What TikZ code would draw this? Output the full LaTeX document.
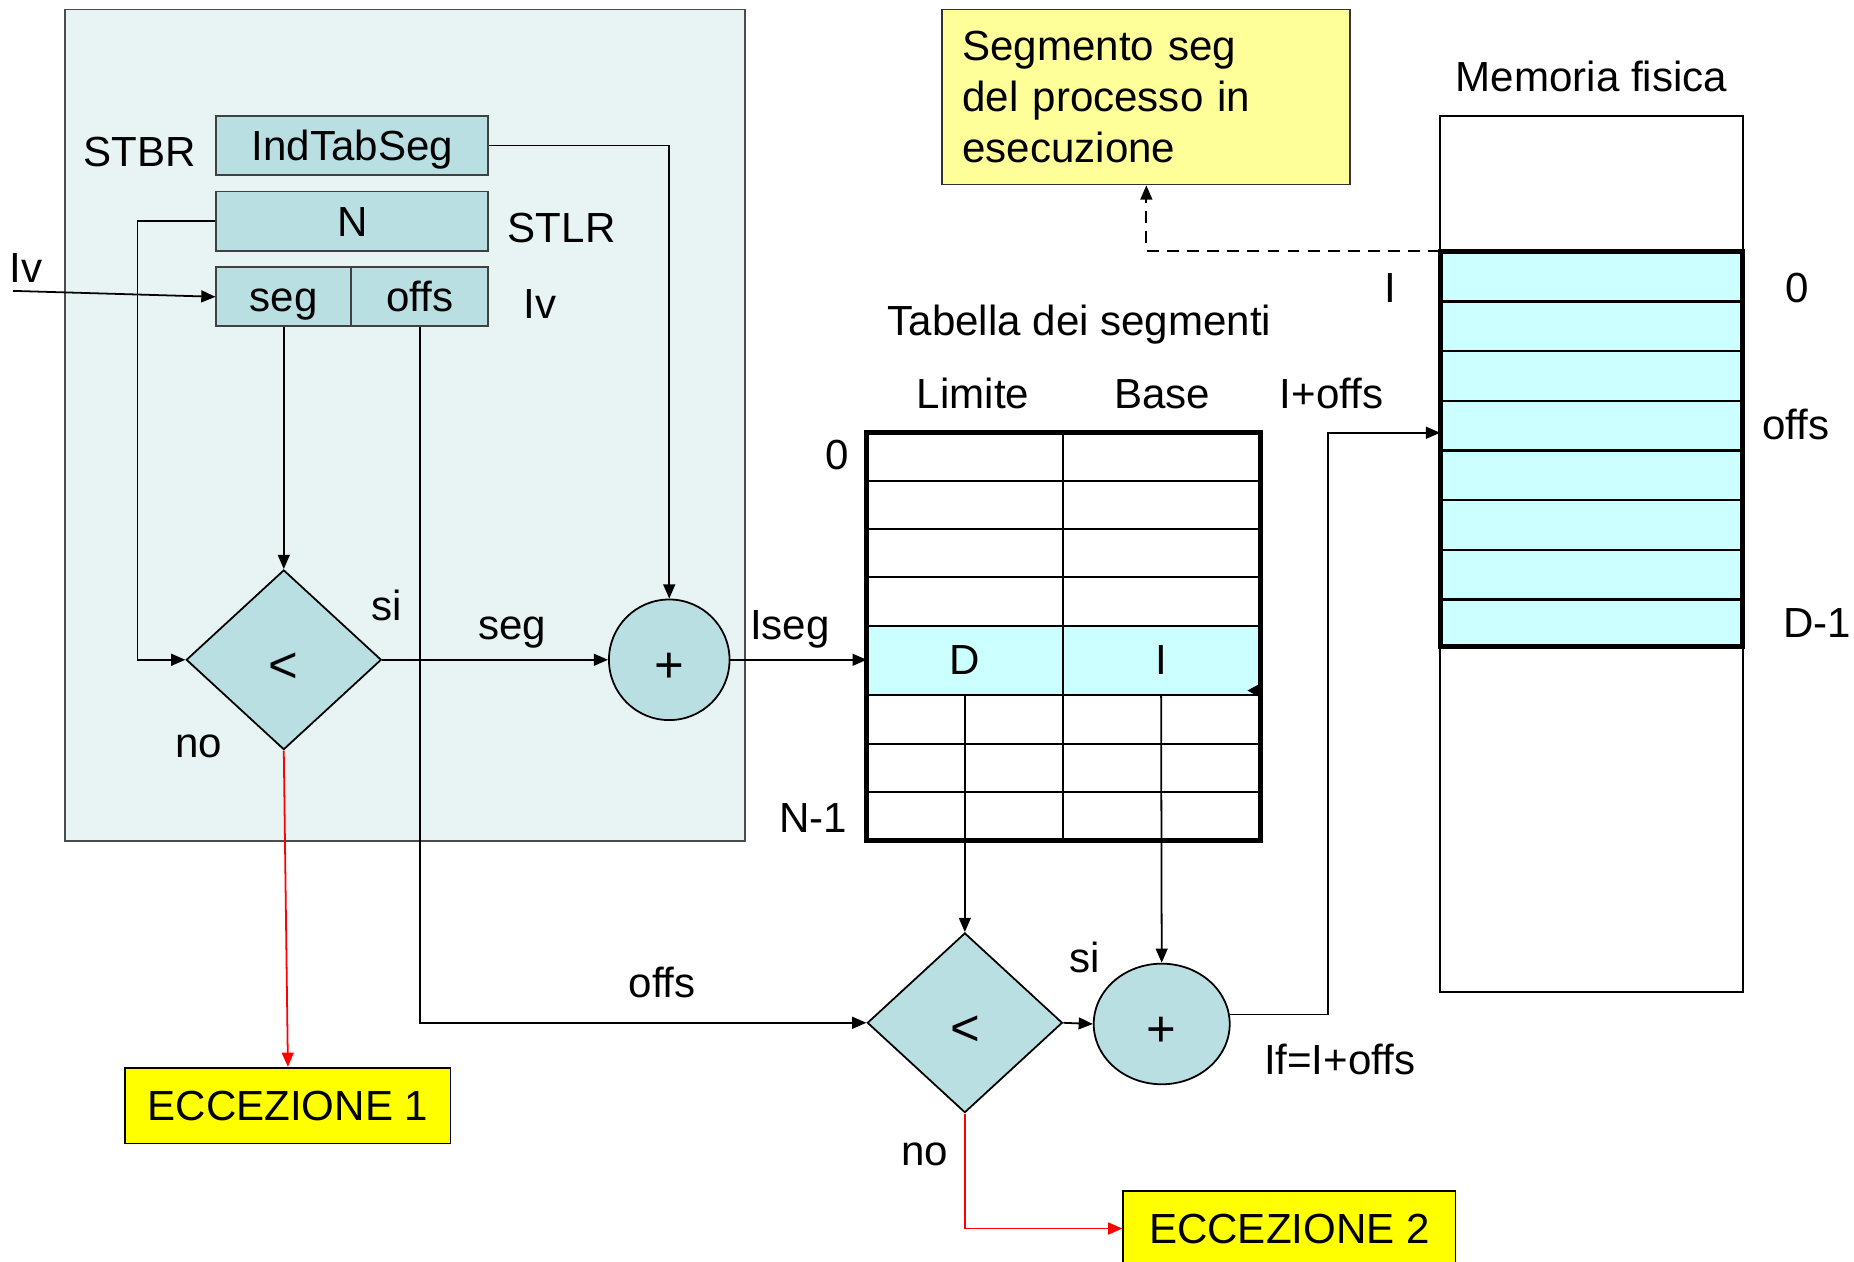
\documentclass[tikz,border=0pt]{standalone}
\usepackage{fontspec}
\setmainfont{Liberation Sans}
\usetikzlibrary{shapes.geometric,arrows.meta,calc}
\definecolor{bgpanel}{HTML}{E8F4F4}
\definecolor{tealbox}{HTML}{B9DFE2}
\definecolor{rowcyan}{HTML}{CCFFFF}
\definecolor{lyellow}{HTML}{FFFF99}
\definecolor{byellow}{HTML}{FFFF00}
\begin{document}
\begin{tikzpicture}[x=0.5pt,y=-0.5pt,
  font=\fontsize{17.8}{21.5}\selectfont,
  >={Triangle[length=6pt,width=5pt]},
  line width=0.75pt,
  txt/.style={text height=12.75pt, text depth=0pt},
  reg/.style={txt, draw=black!75, fill=tealbox, minimum height=25pt, inner sep=0pt},
  sym/.style={font=\fontsize{21.5}{25}\selectfont, text height=15.4pt, text depth=0pt},
  dec/.style={diamond, draw=black, fill=tealbox, minimum width=82.5pt, minimum height=76pt, inner sep=0pt},
  adder/.style={ellipse, draw=black, fill=tealbox, minimum height=51pt, inner sep=0pt},
  exc/.style={txt, draw=black, fill=byellow, minimum height=32pt, inner sep=0pt},
  lbl/.style={txt, inner sep=0pt},
  conn/.style={->},
  err/.style={->, red},
  thinrule/.style={line width=0.85pt},
  thickrule/.style={line width=2.1pt}]

\useasboundingbox (0,0) rectangle (1568,1067.3);
\fill[white] (0,0) rectangle (1568,1067.3);

% panel (CPU)
\draw[draw=black!70, fill=bgpanel] (55,8) rectangle (630,711);

% registers
\node[reg, minimum width=115pt] (ind) at (298,123) {IndTabSeg};
\node[reg, minimum width=115pt] (nreg) at (298,187) {N};
\node[reg, minimum width=57pt] (segf) at (240,251) {seg};
\node[reg, minimum width=58pt] (offsf) at (355,251) {offs};

\node[lbl] (stbr) at (118,128) {STBR};
\node[lbl] (stlr) at (475,192) {STLR};
\node[lbl] (ivl) at (22,226) {Iv};
\node[lbl] (ivr) at (457,257) {Iv};

% comparators and adders
\node[dec] (d1) at (240,558) {};
\node[adder, minimum width=51pt] (c1) at (566,558) {};
\node[dec] (d2) at (816,865) {};
\node[adder, minimum width=57.5pt] (c2) at (982.5,866) {};
\node[sym] (d1s) at (240,561.5) {<};
\node[sym] (c1s) at (566,561.5) {+};
\node[sym] (d2s) at (816,868.5) {<};
\node[sym] (c2s) at (982.5,869.5) {+};

\node[exc, minimum width=137.5pt] (e1) at (243.5,935) {ECCEZIONE 1};
\node[exc, minimum width=140.5pt] (e2) at (1090.5,1039) {ECCEZIONE 2};

% labels
\node[lbl] at (327,512) {si};
\node[lbl] at (168,628) {no};
\node[lbl] at (433,528) {seg};
\node[lbl] at (560,831) {offs};
\node[lbl] at (668,528) {Iseg};
\node[lbl] at (917,810) {si};
\node[lbl] at (782,973) {no};
\node[lbl] at (1133,896) {If=I+offs};

% segment table
\node[lbl] at (913,271) {Tabella dei segmenti};
\node[lbl] at (823,333) {Limite};
\node[lbl] at (983,333) {Base};
\node[lbl] at (1126,333) {I+offs};
\node[lbl] at (708,384) {0};
\node[lbl] at (688,691) {N-1};
\fill[rowcyan] (733,529) rectangle (1066,588);
\foreach \yy in {407,447,488,529,588,629,670} \draw[thinrule] (733,\yy) -- (1066,\yy);
\draw[thinrule] (899,366) -- (899,711);
\draw[thickrule] (733,366) rectangle (1066,711);
\node[lbl] (Dv) at (816,558) {D};
\node[lbl] (Iv) at (982,558) {I};
\coordinate (rowin) at (733,558);
\coordinate (Dbot) at (816,588);
\coordinate (Ibot) at (982,588);
\fill (1066,578) -- (1055,584) -- (1066,590) -- cycle;

% physical memory
\node[lbl] at (1346,65) {Memoria fisica};
\draw[line width=0.75pt, fill=white] (1218,98) rectangle (1474,839);
\fill[rowcyan] (1218,213) rectangle (1474,547);
\foreach \yy in {255,297,339,381,423,465,507} \draw[line width=1pt] (1218,\yy) -- (1474,\yy);
\draw[thickrule] (1218,213) rectangle (1474,547);
\node[lbl] at (1176,243) {I};
\node[lbl] at (1520,243) {0};
\node[lbl] at (1519,359) {offs};
\node[lbl] at (1537,526) {D-1};
\coordinate (memin) at (1218,366);
\coordinate (segtop) at (1218,212);

% process segment note
\node[draw=black!80, fill=lyellow, minimum width=172.5pt, minimum height=74pt,
      text width=155.5pt, inner xsep=8.5pt, align=left] (note) at (969.5,82)
      {Segmento seg\\del processo in\\esecuzione};

% connectors
\coordinate (ivin) at (11,246);
\draw[conn] (ivin) -- (segf.west);
\draw[conn] (ind.east) -| (c1.north);
\draw[conn] (nreg.west) -- ++(-66,0) |- (d1.west);
\draw[conn] (segf.south) -- (d1.north);
\draw[conn] (offsf.south) |- (d2.west);
\draw[conn] (d1.east) -- (c1.west);
\draw[conn] (c1.east) -- (rowin);
\draw[err] (d1.south) -- (e1.north);
\draw[conn] (Dbot) -- (d2.north);
\draw[conn] (Ibot) -- (c2.north);
\draw[conn] (d2.east) -- (c2.west);
\draw[conn] (c2.8) -- ++(83,0) |- (memin);
\draw[err] (d2.south) |- (e2.west);
\draw[conn, dash pattern=on 5pt off 3.5pt] (segtop) -| (note.south);
\end{tikzpicture}
\end{document}
